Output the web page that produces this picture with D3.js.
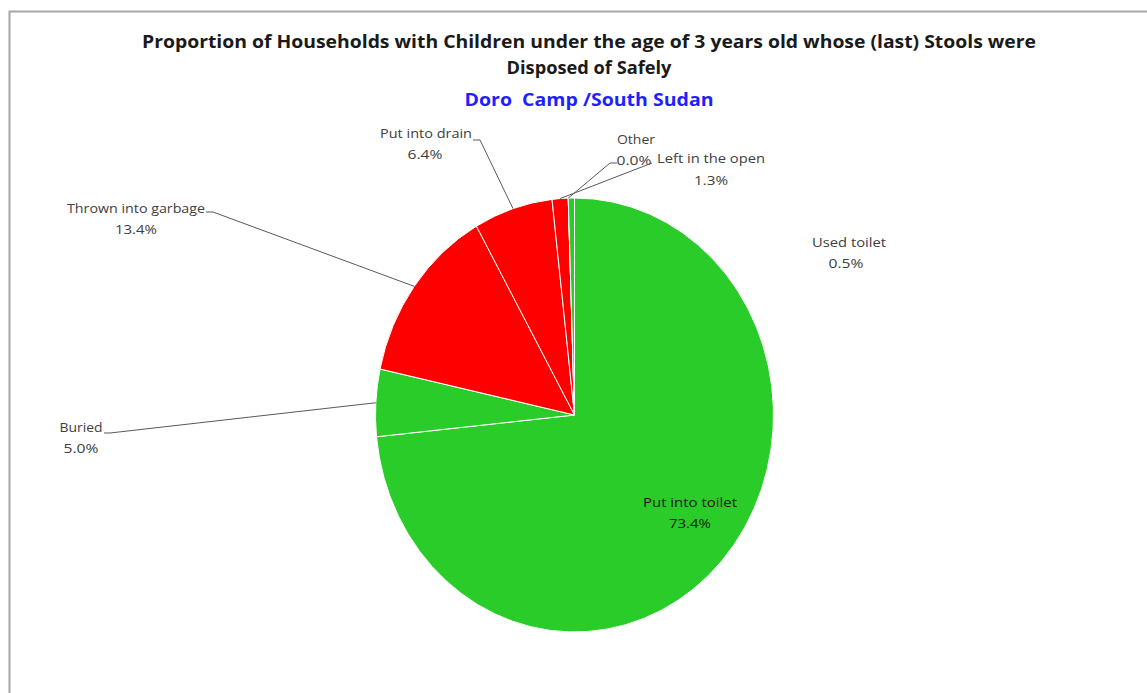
<!DOCTYPE html>
<html><head><meta charset="utf-8">
<script src="https://cdn.jsdelivr.net/npm/d3@7"></script>
<style>body{margin:0;background:#fff}svg{display:block}</style>
</head><body><div id="chart"></div>
<script>
// ---- data ----
const categories = ["Put into toilet","Buried","Thrown into garbage","Put into drain","Left in the open","Other","Used toilet"];
const values = [73.4, 5.0, 13.4, 6.4, 1.3, 0.0, 0.5];
const sliceColors = ["#29cc29","#29cc29","#ff0000","#ff0000","#ff0000","#ff0000","#29cc29"];
const titleLines = ["Proportion of Households with Children under the age of 3 years old whose (last) Stools were","Disposed of Safely"];
const subtitle = "Doro  Camp /South Sudan";

// ---- layout (label placement, not data) ----
const W = 1147, H = 693;
const cx = 574.5, cy = 415, rx = 199, ry = 217;
const labelLayout = {
  "Put into toilet":     {x:690, y:502, w:94,  pw:42, inside:true},
  "Buried":              {x:81,  y:427, w:43,  pw:35, line:[[104,433],[110,433]]},
  "Thrown into garbage": {x:136, y:208, w:138, pw:42, line:[[206,212],[213,212]]},
  "Put into drain":      {x:426, y:133, w:92,  pw:35, pctX:425, line:[[473,140],[480,140]]},
  "Left in the open":    {x:711, y:158, w:108, pw:34, pctY:180, line:[[652,163],[652,163]]},
  "Other":               {x:636, y:139, w:38,  pw:35, pctX:634, line:[[617,163],[610,163]]},
  "Used toilet":         {x:849, y:242, w:74,  pw:35, pctX:846}
};

const svg = d3.select("#chart").append("svg").attr("width", W).attr("height", H);
svg.append("rect").attr("width", W).attr("height", H).attr("fill", "#fff");
// frame
svg.append("path").attr("d", `M9.5,${H} V11.5 H${W}`).attr("fill","none").attr("stroke","#a6a6a6").attr("stroke-width",2);

const font = "'Open Sans', 'Liberation Sans', sans-serif";
// titles
const titleWidths = [894, 165];
titleLines.forEach((t,i) => {
  svg.append("text").attr("x", 589).attr("y", 48 + i*26).attr("text-anchor","middle")
    .attr("font-family", font).attr("font-weight","bold").attr("font-size", 18).attr("fill","#1a1a1a")
    .attr("textLength", titleWidths[i]).attr("lengthAdjust","spacingAndGlyphs").text(t);
});
svg.append("text").attr("x", 589).attr("y", 106).attr("text-anchor","middle")
  .attr("font-family", font).attr("font-weight","bold").attr("font-size", 18).attr("fill","#1f1fff")
  .style("white-space","pre")
  .attr("textLength", 249).attr("lengthAdjust","spacingAndGlyphs").text(subtitle);

// pie
const pie = d3.pie().sort(null).value(d => d.v).startAngle(0).endAngle(2*Math.PI);
const data = pie(categories.map((c,i) => ({c, v: values[i], col: sliceColors[i]})));
const arc = d3.arc().innerRadius(0).outerRadius(rx);
const g = svg.append("g").attr("transform", `translate(${cx},${cy}) scale(1,${ry/rx})`);
g.selectAll("path").data(data).join("path")
  .attr("d", arc).attr("fill", d => d.data.col)
  .attr("stroke","#fff").attr("stroke-width",1).attr("vector-effect","non-scaling-stroke");

function edgePt(d){
  const a = (d.startAngle + d.endAngle)/2;
  return [cx + rx*Math.sin(a), cy - ry*Math.cos(a)];
}
const fmt = v => v.toFixed(1) + "%";
data.forEach(d => {
  const L = labelLayout[d.data.c];
  if (!L) return;
  if (L.line) {
    const p = edgePt(d);
    svg.append("path").attr("d", d3.line()([L.line[0], L.line[1], p])).attr("fill","none").attr("stroke","#595959").attr("stroke-width",1);
  }
  const col = L.inside ? "#1a1a1a" : "#404040";
  svg.append("text").attr("x", L.x).attr("y", L.y + 5).attr("text-anchor","middle")
    .attr("font-family", font).attr("font-size", 13.5).attr("fill", col)
    .attr("textLength", L.w).attr("lengthAdjust","spacingAndGlyphs").text(d.data.c);
  svg.append("text").attr("x", L.pctX || L.x).attr("y", (L.pctY || L.y + 21) + 5).attr("text-anchor","middle")
    .attr("font-family", font).attr("font-size", 13.5).attr("fill", col)
    .attr("textLength", L.pw).attr("lengthAdjust","spacingAndGlyphs").text(fmt(d.data.v));
});
</script></body></html>
